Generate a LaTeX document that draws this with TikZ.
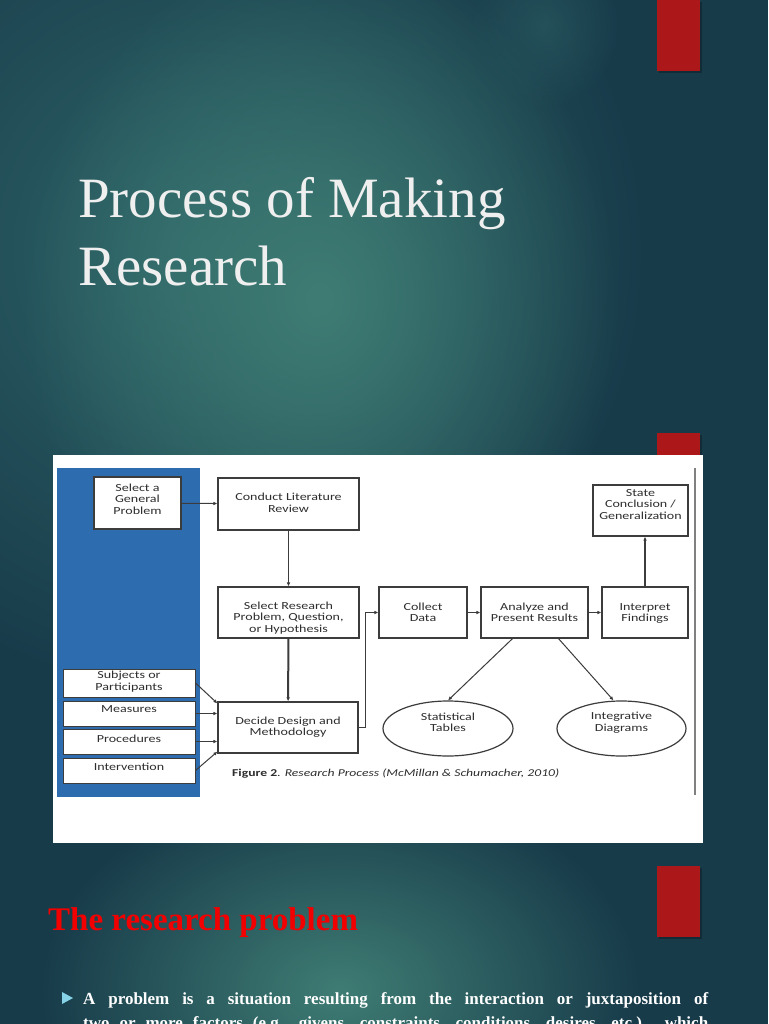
\documentclass[tikz,border=0pt]{standalone}
\usepackage{fontspec}
\setmainfont{Liberation Serif}
\newfontfamily\boxfont[FakeStretch=1.3]{Carlito}
\usetikzlibrary{fadings,shapes.geometric,arrows.meta}
\definecolor{bgbase}{HTML}{183B4A}
\definecolor{glow}{HTML}{3F7D74}
\definecolor{glowb}{HTML}{2E6468}
\definecolor{barred}{HTML}{AC1719}
\definecolor{titlegray}{HTML}{EFEFEF}
\definecolor{panelblue}{HTML}{2E6CB0}
\definecolor{boxline}{HTML}{3C3C3C}
\definecolor{boxtext}{HTML}{2E2E2E}
\definecolor{headred}{HTML}{F20000}
\definecolor{bulletblue}{HTML}{86D3E8}
\tikzfading[name=glowfade, inner color=transparent!0, outer color=transparent!100]
\newcommand\tl[2]{\raisebox{#1}[\height][\depth]{\begin{tabular}{@{}c@{}}#2\end{tabular}}}
\tikzset{
  box/.style={draw=boxline, line width=1.2pt, fill=white, rectangle, inner sep=0pt,
    text=boxtext, font=\boxfont\fontsize{10.8}{11.5}\selectfont},
  sidebox/.style={box, minimum width=132pt, line width=1pt},
  oval/.style={draw=boxline, line width=1.2pt, fill=white, ellipse, inner sep=0pt},
  ovaltext/.style={text=boxtext, font=\boxfont\fontsize{10.8}{11.5}\selectfont, align=center, inner sep=0pt},
  arr/.style={draw=boxline, line width=1pt, -{Latex[length=4pt,width=3.6pt]}},
  bar/.style={fill=barred},
  barshadow/.style={fill=black, opacity=0.25}
}
\begin{document}
\begin{tikzpicture}[x=1pt,y=-1pt]
\useasboundingbox (0,0) rectangle (768,1024);
\clip (0,0) rectangle (768,1024);
% background
\fill[bgbase] (0,0) rectangle (768,1024);
\fill[glowb, path fading=glowfade] (-250,-200) rectangle (650,700);
\fill[glow, path fading=glowfade] (20,-50) rectangle (620,650);
\fill[glow, path fading=glowfade] (40,780) rectangle (640,1200);
\fill[glowb, opacity=0.5, path fading=glowfade] (470,-60) rectangle (620,110);
% red bars
\fill[barshadow] (659,2) rectangle (702,73);
\fill[bar] (657,0) rectangle (700,71);
\fill[barshadow] (659,435) rectangle (702,457);
\fill[bar] (657,433) rectangle (700,455);
\fill[barshadow] (659,868) rectangle (702,939);
\fill[bar] (657,866) rectangle (700,937);
% title
\node[anchor=base west, inner sep=0pt, text=titlegray, font=\fontsize{57}{66}\selectfont] (t1) at (78,218) {Process of Making};
\node[anchor=base west, inner sep=0pt, text=titlegray, font=\fontsize{57}{66}\selectfont] (t2) at (78,285) {Research};
% figure panel
\fill[white] (53,455) rectangle (703,843);
\fill[panelblue] (57,468) rectangle (200,797);
\draw[gray, line width=1.5pt] (695,468) -- (695,795);
% boxes
\node[box, minimum width=87pt, minimum height=52pt] (gen) at (137.5,503) {\tl{2.5pt}{Select a\\General\\Problem}};
\node[box, minimum width=141pt, minimum height=52pt] (lit) at (288.5,504) {\tl{0pt}{Conduct Literature\\Review}};
\node[box, minimum width=141pt, minimum height=51pt] (sel) at (288.5,612.5) {\tl{-6pt}{Select Research\\Problem, Question,\\or Hypothesis}};
\node[box, minimum width=88pt, minimum height=51pt] (col) at (423,612.5) {\tl{-1pt}{Collect\\Data}};
\node[box, minimum width=107pt, minimum height=51pt] (ana) at (534.5,612.5) {\tl{-1pt}{Analyze and\\Present Results}};
\node[box, minimum width=86pt, minimum height=51pt] (inp) at (645,612.5) {\tl{-1pt}{Interpret\\Findings}};
\node[box, minimum width=95pt, minimum height=51pt] (sc) at (640.5,510.5) {\tl{5pt}{State\\Conclusion /\\Generalization}};
\node[box, minimum width=140pt, minimum height=51pt] (dec) at (288,727.5) {\tl{0pt}{Decide Design and\\Methodology}};
\node[sidebox, minimum height=28pt] (sub) at (129,683) {\tl{1pt}{Subjects or\\Participants}};
\node[sidebox, minimum height=25pt] (mea) at (129,713.5) {\tl{3pt}{Measures}};
\node[sidebox, minimum height=25pt] (pro) at (129,741.5) {\tl{1pt}{Procedures}};
\node[sidebox, minimum height=25pt] (int) at (129,770.5) {\tl{2pt}{Intervention}};
\node[oval, minimum width=130pt, minimum height=55pt] (st) at (448,728.5) {};
\node[ovaltext] (stt) at (448,722.5) {Statistical\\Tables};
\node[oval, minimum width=129pt, minimum height=55pt] (idg) at (621.5,728.5) {};
\node[ovaltext] (idgt) at (621.5,722.5) {Integrative\\Diagrams};
\node[anchor=base west, inner sep=0pt, text=boxtext, font=\boxfont\fontsize{10.5}{12}\selectfont] (cap) at (232,776) {\textbf{Figure 2}. \textit{Research Process (McMillan \& Schumacher, 2010)}};
% connectors
\draw[arr] (gen) -- (lit);
\draw[arr] (lit) -- (sel);
\draw[arr, line width=2pt] (sel) -- (dec);
\draw[arr] (dec.east) -- ++(7,0) |- (col.west);
\draw[arr] (col) -- (ana);
\draw[arr] (ana) -- (inp);
\draw[arr, line width=1.8pt] (inp.north) -- (inp.north |- sc.south);
\draw[arr] ([xshift=-22pt]ana.south) -- (st.north);
\draw[arr] ([xshift=24pt]ana.south) -- ([xshift=-8pt]idg.north);
\draw[arr] (sub.east) -- ([yshift=-2pt]dec.north west);
\draw[arr] (mea.east) -- (mea.east -| dec.west);
\draw[arr] (pro.east) -- (pro.east -| dec.west);
\draw[arr] (int.east) -- ([yshift=2pt]dec.south west);
% lower slide text
\node[anchor=base west, inner sep=0pt, text=headred, font=\fontsize{33}{40}\selectfont\bfseries] (head) at (48,930) {The research problem};
\fill[bulletblue] (62,992) -- (73,998) -- (62,1004) -- cycle;
\node[anchor=base west, inner sep=0pt, text=white, font=\fontsize{17}{20}\selectfont\bfseries] (b1) at (83,1004) {\makebox[625pt][s]{A problem is a situation resulting from the interaction or juxtaposition of}};
\node[anchor=base west, inner sep=0pt, text=white, font=\fontsize{17}{20}\selectfont\bfseries] (b2) at (83,1028) {\makebox[625pt][s]{two or more factors (e.g., givens, constraints, conditions, desires, etc.) which}};
\end{tikzpicture}
\end{document}
